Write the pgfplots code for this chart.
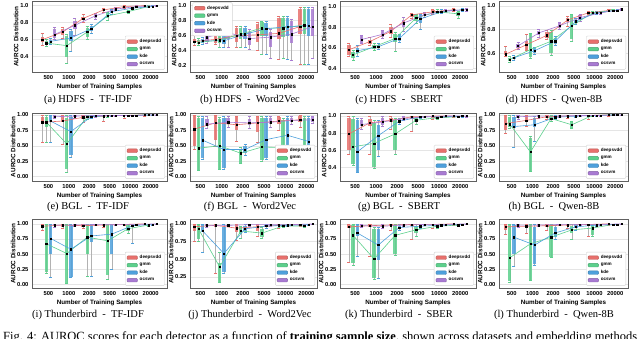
\documentclass[border=0pt]{standalone}
\usepackage{pgfplots}
\pgfplotsset{compat=1.18}
\usepackage{pgfplotstable}
\usepackage{graphicx}
\usepackage{fontspec}
\setmainfont{Liberation Serif}
\setsansfont{Liberation Sans}

\definecolor{cd}{RGB}{232,112,108}
\definecolor{cg}{RGB}{92,208,140}
\definecolor{ck}{RGB}{78,160,220}
\definecolor{co}{RGB}{168,122,210}

% columns: i lw q1 m q3 uw  (whisker low, box low, median, box high, whisker high)
\pgfplotstableread{
i lw q1 m q3 uw
1 0.54 0.57 0.60 0.63 0.68
2 0.62 0.65 0.69 0.72 0.75
3 0.80 0.83 0.85 0.87 0.90
4 0.92 0.94 0.95 0.96 0.97
5 0.97 0.98 0.99 0.99 1.00
6 0.99 0.99 1.00 1.00 1.00
}\aD
\pgfplotstableread{
i lw q1 m q3 uw
1 0.52 0.54 0.56 0.59 0.61
2 0.32 0.40 0.53 0.64 0.66
3 0.60 0.63 0.69 0.74 0.76
4 0.83 0.85 0.88 0.91 0.92
5 0.91 0.92 0.93 0.94 0.95
6 0.98 0.99 0.99 1.00 1.00
}\aG
\pgfplotstableread{
i lw q1 m q3 uw
1 0.55 0.56 0.58 0.60 0.62
2 0.46 0.58 0.62 0.70 0.72
3 0.68 0.70 0.73 0.76 0.78
4 0.90 0.92 0.93 0.95 0.96
5 0.96 0.97 0.97 0.98 0.98
6 0.99 0.99 0.99 1.00 1.00
}\aK
\pgfplotstableread{
i lw q1 m q3 uw
1 0.60 0.62 0.66 0.73 0.75
2 0.65 0.72 0.77 0.82 0.85
3 0.84 0.86 0.88 0.90 0.91
4 0.95 0.96 0.96 0.97 0.98
5 0.98 0.99 0.99 0.99 1.00
6 0.99 1.00 1.00 1.00 1.00
}\aO

\pgfplotstableread{
i lw q1 m q3 uw
1 0.47 0.50 0.52 0.56 0.60
2 0.48 0.50 0.55 0.65 0.70
3 0.45 0.52 0.60 0.70 0.73
4 0.40 0.52 0.61 0.76 0.78
5 0.29 0.55 0.63 0.84 0.86
6 0.22 0.62 0.72 0.96 0.98
}\bD
\pgfplotstableread{
i lw q1 m q3 uw
1 0.47 0.49 0.51 0.54 0.56
2 0.45 0.50 0.54 0.60 0.65
3 0.45 0.55 0.62 0.70 0.72
4 0.35 0.60 0.70 0.78 0.79
5 0.30 0.58 0.70 0.84 0.86
6 0.22 0.62 0.74 0.96 0.98
}\bG
\pgfplotstableread{
i lw q1 m q3 uw
1 0.48 0.50 0.53 0.56 0.58
2 0.45 0.49 0.53 0.60 0.66
3 0.45 0.56 0.62 0.70 0.72
4 0.35 0.60 0.69 0.77 0.79
5 0.28 0.60 0.72 0.84 0.86
6 0.22 0.60 0.73 0.96 0.98
}\bK
\pgfplotstableread{
i lw q1 m q3 uw
1 0.50 0.52 0.58 0.62 0.64
2 0.45 0.55 0.64 0.70 0.72
3 0.42 0.48 0.56 0.65 0.68
4 0.30 0.45 0.58 0.65 0.68
5 0.27 0.50 0.62 0.80 0.82
6 0.30 0.60 0.72 0.96 0.98
}\bO

\pgfplotstableread{
i lw q1 m q3 uw
1 0.52 0.53 0.58 0.63 0.64
2 0.62 0.64 0.66 0.68 0.70
3 0.70 0.73 0.76 0.80 0.83
4 0.89 0.90 0.92 0.93 0.94
5 0.93 0.94 0.95 0.97 0.97
6 0.96 0.96 0.97 0.98 0.98
}\cD
\pgfplotstableread{
i lw q1 m q3 uw
1 0.48 0.50 0.53 0.56 0.58
2 0.58 0.59 0.61 0.63 0.64
3 0.57 0.66 0.69 0.73 0.75
4 0.84 0.86 0.89 0.92 0.93
5 0.94 0.95 0.95 0.96 0.97
6 0.89 0.91 0.93 0.95 0.96
}\cG
\pgfplotstableread{
i lw q1 m q3 uw
1 0.52 0.55 0.57 0.60 0.62
2 0.59 0.60 0.61 0.63 0.64
3 0.65 0.67 0.69 0.72 0.73
4 0.78 0.84 0.88 0.92 0.93
5 0.94 0.95 0.95 0.96 0.97
6 0.96 0.96 0.97 0.98 0.98
}\cK
\pgfplotstableread{
i lw q1 m q3 uw
1 0.64 0.65 0.68 0.71 0.72
2 0.69 0.70 0.73 0.76 0.77
3 0.76 0.80 0.84 0.87 0.90
4 0.90 0.91 0.92 0.94 0.95
5 0.95 0.96 0.96 0.97 0.97
6 0.96 0.97 0.97 0.98 0.98
}\cO

\pgfplotstableread{
i lw q1 m q3 uw
1 0.57 0.58 0.59 0.62 0.66
2 0.62 0.63 0.67 0.70 0.76
3 0.72 0.73 0.75 0.78 0.79
4 0.83 0.86 0.88 0.90 0.91
5 0.93 0.94 0.94 0.95 0.95
6 0.95 0.96 0.96 0.97 0.97
}\dD
\pgfplotstableread{
i lw q1 m q3 uw
1 0.52 0.53 0.545 0.56 0.57
2 0.56 0.57 0.63 0.76 0.77
3 0.58 0.60 0.70 0.78 0.79
4 0.70 0.72 0.83 0.92 0.93
5 0.93 0.94 0.94 0.95 0.95
6 0.95 0.96 0.96 0.97 0.97
}\dG
\pgfplotstableread{
i lw q1 m q3 uw
1 0.54 0.55 0.56 0.57 0.58
2 0.59 0.60 0.62 0.64 0.65
3 0.67 0.68 0.70 0.73 0.74
4 0.84 0.85 0.87 0.88 0.89
5 0.93 0.94 0.94 0.95 0.95
6 0.95 0.96 0.96 0.97 0.97
}\dK
\pgfplotstableread{
i lw q1 m q3 uw
1 0.63 0.64 0.66 0.68 0.69
2 0.73 0.75 0.77 0.79 0.80
3 0.80 0.81 0.83 0.85 0.86
4 0.87 0.88 0.90 0.92 0.93
5 0.93 0.94 0.94 0.95 0.95
6 0.96 0.96 0.97 0.97 0.98
}\dO

\pgfplotstableread{
i lw q1 m q3 uw
1 0.55 0.86 0.88 0.97 1.00
2 0.53 0.88 0.90 0.98 1.00
3 0.88 0.93 0.96 0.99 1.00
4 0.89 0.96 0.98 1.00 1.00
5 0.95 0.98 0.99 1.00 1.00
6 0.98 0.99 1.00 1.00 1.00
}\eD
\pgfplotstableread{
i lw q1 m q3 uw
1 0.55 0.80 0.88 0.97 1.00
2 0.07 0.12 0.53 0.95 1.00
3 0.93 0.95 0.97 0.99 1.00
4 0.96 0.98 0.99 1.00 1.00
5 0.97 0.98 0.99 1.00 1.00
6 0.99 0.99 1.00 1.00 1.00
}\eG
\pgfplotstableread{
i lw q1 m q3 uw
1 0.55 0.88 0.90 0.98 1.00
2 0.32 0.35 0.73 0.97 1.00
3 0.94 0.96 0.97 0.99 1.00
4 0.97 0.98 0.99 1.00 1.00
5 0.98 0.99 0.99 1.00 1.00
6 0.99 0.99 1.00 1.00 1.00
}\eK
\pgfplotstableread{
i lw q1 m q3 uw
1 0.94 0.96 0.97 0.99 1.00
2 0.95 0.97 0.98 0.99 1.00
3 0.96 0.98 0.99 1.00 1.00
4 0.97 0.98 0.99 1.00 1.00
5 0.98 0.99 0.99 1.00 1.00
6 0.99 0.99 1.00 1.00 1.00
}\eO

\pgfplotstableread{
i lw q1 m q3 uw
1 0.45 0.50 0.77 0.98 1.00
2 0.50 0.60 0.87 0.98 1.00
3 0.58 0.75 0.84 0.97 0.98
4 0.55 0.72 0.87 0.97 0.98
5 0.75 0.85 0.90 0.97 0.98
6 0.80 0.88 0.92 0.98 0.99
}\fD
\pgfplotstableread{
i lw q1 m q3 uw
1 0.10 0.10 0.46 0.95 0.98
2 0.12 0.13 0.50 0.93 0.96
3 0.22 0.22 0.38 0.45 0.48
4 0.25 0.27 0.48 0.95 0.97
5 0.20 0.25 0.47 0.92 0.95
6 0.28 0.30 0.50 0.95 0.97
}\fG
\pgfplotstableread{
i lw q1 m q3 uw
1 0.28 0.30 0.59 0.95 0.97
2 0.12 0.14 0.44 0.95 0.97
3 0.35 0.38 0.44 0.50 0.52
4 0.28 0.30 0.60 0.95 0.97
5 0.30 0.35 0.67 0.95 0.97
6 0.28 0.30 0.57 0.95 0.97
}\fK
\pgfplotstableread{
i lw q1 m q3 uw
1 0.78 0.82 0.85 0.93 0.97
2 0.80 0.85 0.88 0.95 0.98
3 0.78 0.83 0.87 0.93 0.97
4 0.80 0.85 0.88 0.95 0.98
5 0.85 0.88 0.91 0.95 0.98
6 0.87 0.89 0.92 0.96 0.98
}\fO

\pgfplotstableread{
i lw q1 m q3 uw
1 0.55 0.60 0.79 0.98 1.00
2 0.55 0.88 0.92 0.97 1.00
3 0.85 0.93 0.95 0.98 1.00
4 0.82 0.97 0.99 1.00 1.00
5 0.96 0.98 1.00 1.00 1.00
6 0.99 1.00 1.00 1.00 1.00
}\gD
\pgfplotstableread{
i lw q1 m q3 uw
1 0.42 0.44 0.64 0.97 1.00
2 0.39 0.40 0.68 0.92 0.95
3 0.55 0.60 0.79 0.95 0.97
4 0.90 0.93 0.95 0.98 0.99
5 0.96 0.97 0.98 0.99 1.00
6 0.98 0.99 0.99 1.00 1.00
}\gG
\pgfplotstableread{
i lw q1 m q3 uw
1 0.34 0.35 0.58 0.95 0.97
2 0.53 0.60 0.77 0.90 0.95
3 0.90 0.92 0.94 0.96 0.97
4 0.97 0.98 0.99 1.00 1.00
5 0.98 0.99 0.99 1.00 1.00
6 0.99 0.99 1.00 1.00 1.00
}\gK
\pgfplotstableread{
i lw q1 m q3 uw
1 0.85 0.88 0.90 0.95 0.97
2 0.88 0.90 0.93 0.98 1.00
3 0.95 0.96 0.97 0.99 1.00
4 0.98 0.99 0.99 1.00 1.00
5 0.99 0.99 1.00 1.00 1.00
6 0.99 1.00 1.00 1.00 1.00
}\gO

\pgfplotstableread{
i lw q1 m q3 uw
1 0.70 0.75 0.86 0.98 1.00
2 0.82 0.88 0.91 0.98 1.00
3 0.93 0.95 0.97 0.99 1.00
4 0.95 0.97 0.98 1.00 1.00
5 0.93 0.98 0.99 1.00 1.00
6 0.98 0.99 1.00 1.00 1.00
}\hD
\pgfplotstableread{
i lw q1 m q3 uw
1 0.78 0.80 0.85 0.97 1.00
2 0.08 0.09 0.40 0.62 0.65
3 0.90 0.92 0.94 0.98 0.99
4 0.78 0.79 0.84 0.88 0.90
5 0.97 0.98 0.99 1.00 1.00
6 0.99 0.99 1.00 1.00 1.00
}\hG
\pgfplotstableread{
i lw q1 m q3 uw
1 0.47 0.78 0.81 0.97 1.00
2 0.57 0.80 0.84 0.95 0.97
3 0.93 0.95 0.96 0.98 0.99
4 0.96 0.97 0.98 0.99 1.00
5 0.98 0.99 0.99 1.00 1.00
6 0.99 0.99 1.00 1.00 1.00
}\hK
\pgfplotstableread{
i lw q1 m q3 uw
1 0.93 0.95 0.97 0.99 1.00
2 0.95 0.96 0.98 0.99 1.00
3 0.96 0.97 0.98 0.99 1.00
4 0.97 0.98 0.99 1.00 1.00
5 0.98 0.99 0.99 1.00 1.00
6 0.99 0.99 1.00 1.00 1.00
}\hO

\pgfplotstableread{
i lw q1 m q3 uw
1 0.90 0.94 0.96 0.99 1.00
2 0.93 0.95 0.98 1.00 1.00
3 0.93 0.95 0.97 0.99 1.00
4 0.95 0.97 0.98 1.00 1.00
5 0.97 0.98 0.99 1.00 1.00
6 0.99 0.99 1.00 1.00 1.00
}\iD
\pgfplotstableread{
i lw q1 m q3 uw
1 0.18 0.20 0.67 0.98 1.00
2 0.02 0.03 0.51 0.98 1.00
3 0.13 0.50 0.78 0.98 1.00
4 0.08 0.15 0.72 0.98 1.00
5 0.85 0.88 0.92 0.98 1.00
6 0.96 0.97 0.98 0.99 1.00
}\iG
\pgfplotstableread{
i lw q1 m q3 uw
1 0.12 0.50 0.76 0.98 1.00
2 0.12 0.13 0.58 0.98 1.00
3 0.13 0.70 0.80 0.98 1.00
4 0.25 0.50 0.83 0.98 1.00
5 0.68 0.94 0.97 0.99 1.00
6 0.98 0.99 0.99 1.00 1.00
}\iK
\pgfplotstableread{
i lw q1 m q3 uw
1 0.95 0.97 0.98 0.99 1.00
2 0.96 0.97 0.98 0.99 1.00
3 0.97 0.98 0.99 1.00 1.00
4 0.97 0.98 0.99 1.00 1.00
5 0.98 0.99 0.99 1.00 1.00
6 0.99 0.99 1.00 1.00 1.00
}\iO

\pgfplotstableread{
i lw q1 m q3 uw
1 0.75 0.90 0.96 1.00 1.00
2 0.30 0.95 0.98 1.00 1.00
3 0.77 0.88 0.94 0.99 1.00
4 0.82 0.90 0.96 0.99 1.00
5 0.94 0.97 0.98 0.99 1.00
6 0.97 0.98 0.99 1.00 1.00
}\jD
\pgfplotstableread{
i lw q1 m q3 uw
1 0.75 0.78 0.93 0.99 1.00
2 0.17 0.18 0.39 0.45 0.60
3 0.80 0.85 0.90 0.95 0.97
4 0.80 0.82 0.87 0.93 0.95
5 0.95 0.96 0.97 0.98 0.99
6 0.95 0.96 0.97 0.98 0.99
}\jG
\pgfplotstableread{
i lw q1 m q3 uw
1 0.60 0.88 0.90 0.98 1.00
2 0.30 0.32 0.58 0.95 1.00
3 0.88 0.90 0.93 0.97 0.99
4 0.94 0.96 0.97 0.99 1.00
5 0.96 0.97 0.98 0.99 1.00
6 0.98 0.99 0.99 1.00 1.00
}\jK
\pgfplotstableread{
i lw q1 m q3 uw
1 0.95 0.97 0.98 0.99 1.00
2 0.96 0.97 0.98 0.99 1.00
3 0.97 0.98 0.99 1.00 1.00
4 0.97 0.98 0.99 1.00 1.00
5 0.98 0.99 0.99 1.00 1.00
6 0.99 0.99 1.00 1.00 1.00
}\jO

\pgfplotstableread{
i lw q1 m q3 uw
1 0.37 0.93 0.95 0.98 1.00
2 0.46 0.94 0.97 0.99 1.00
3 0.90 0.96 0.98 0.99 1.00
4 0.75 0.97 0.99 1.00 1.00
5 0.93 0.98 0.99 1.00 1.00
6 0.97 0.99 1.00 1.00 1.00
}\kD
\pgfplotstableread{
i lw q1 m q3 uw
1 0.32 0.35 0.81 0.98 1.00
2 0.08 0.10 0.42 0.92 0.95
3 0.48 0.50 0.81 0.98 1.00
4 0.80 0.85 0.90 0.97 0.99
5 0.93 0.95 0.96 0.98 0.99
6 0.96 0.97 0.98 0.99 1.00
}\kG
\pgfplotstableread{
i lw q1 m q3 uw
1 0.47 0.80 0.85 0.98 1.00
2 0.10 0.40 0.65 0.92 0.95
3 0.90 0.92 0.94 0.97 0.99
4 0.93 0.95 0.96 0.98 0.99
5 0.96 0.97 0.98 0.99 1.00
6 0.98 0.99 0.99 1.00 1.00
}\kK
\pgfplotstableread{
i lw q1 m q3 uw
1 0.94 0.96 0.97 0.99 1.00
2 0.93 0.95 0.96 0.98 1.00
3 0.96 0.97 0.98 0.99 1.00
4 0.97 0.98 0.99 1.00 1.00
5 0.98 0.99 0.99 1.00 1.00
6 0.99 0.99 1.00 1.00 1.00
}\kO

\pgfplotstableread{
i lw q1 m q3 uw
1 0.83 0.90 0.95 0.99 1.00
2 0.85 0.93 0.96 0.99 1.00
3 0.90 0.95 0.97 0.99 1.00
4 0.93 0.97 0.98 1.00 1.00
5 0.80 0.98 0.99 1.00 1.00
6 0.98 0.99 1.00 1.00 1.00
}\lD
\pgfplotstableread{
i lw q1 m q3 uw
1 0.03 0.05 0.44 0.98 1.00
2 0.07 0.08 0.67 0.98 1.00
3 0.45 0.46 0.78 0.98 1.00
4 0.75 0.85 0.90 0.97 0.99
5 0.80 0.82 0.93 0.98 0.99
6 0.97 0.98 0.99 1.00 1.00
}\lG
\pgfplotstableread{
i lw q1 m q3 uw
1 0.30 0.50 0.78 0.98 1.00
2 0.32 0.33 0.65 0.95 1.00
3 0.75 0.78 0.85 0.95 0.98
4 0.90 0.93 0.95 0.98 0.99
5 0.96 0.97 0.98 0.99 1.00
6 0.98 0.99 0.99 1.00 1.00
}\lK
\pgfplotstableread{
i lw q1 m q3 uw
1 0.95 0.97 0.98 0.99 1.00
2 0.96 0.97 0.98 0.99 1.00
3 0.97 0.98 0.99 1.00 1.00
4 0.97 0.98 0.99 1.00 1.00
5 0.98 0.99 0.99 1.00 1.00
6 0.99 0.99 1.00 1.00 1.00
}\lO

% whiskers + box for one detector
\newcommand{\boxes}[3]{%
  \addplot[draw=none, mark=none, forget plot,
    error bars/.cd, y dir=both, y explicit, error mark=-,
    error mark options={rotate=90, draw=#3, line width=0.5pt, mark size=1.5pt},
    error bar style={draw=gray!60, line width=0.35pt}]
    table[x expr=\thisrow{i}+#2, y=m,
      y error plus expr=\thisrow{uw}-\thisrow{m},
      y error minus expr=\thisrow{m}-\thisrow{lw}] {#1};
  \addplot[draw=none, mark=none, forget plot,
    error bars/.cd, y dir=both, y explicit, error mark=none,
    error bar style={draw=#3, line width=3.4pt, opacity=0.85}]
    table[x expr=\thisrow{i}+#2, y=m,
      y error plus expr=\thisrow{q3}-\thisrow{m},
      y error minus expr=\thisrow{m}-\thisrow{q1}] {#1};
}
% median line and markers
\newcommand{\medline}[3]{%
  \addplot[#3, line width=0.6pt, mark=none, forget plot]
    table[x expr=\thisrow{i}+#2, y=m] {#1};
  \addplot[draw=none, mark=square*, mark size=0.65pt, mark options={fill=black, draw=black}, forget plot]
    table[x expr=\thisrow{i}+#2, y=m] {#1};
}
\newcommand{\detectors}[4]{%
  \boxes{#1}{-0.3}{cd}\boxes{#2}{-0.1}{cg}\boxes{#3}{0.1}{ck}\boxes{#4}{0.3}{co}
  \medline{#1}{-0.3}{cd}\medline{#2}{-0.1}{cg}\medline{#3}{0.1}{ck}\medline{#4}{0.3}{co}
  \addlegendimage{fill=cd, draw=cd!80!black}\addlegendentry{deepsvdd}
  \addlegendimage{fill=cg, draw=cg!80!black}\addlegendentry{gmm}
  \addlegendimage{fill=ck, draw=ck!80!black}\addlegendentry{kde}
  \addlegendimage{fill=co, draw=co!80!black}\addlegendentry{ocsvm}
}

\pgfplotsset{
  panel/.style={
    scale only axis, anchor=south west,
    axis line style={gray!75!black, line width=0.5pt},
    ymajorgrids, major grid style={gray!20, line width=0.4pt},
    major tick length=0pt,
    xtick={1,...,6}, xticklabels={500,1000,2000,5000,10000,20000},
    /pgf/number format/assume math mode=true,
    tick label style={font=\sffamily\bfseries\fontsize{5.8}{6.5}\selectfont},
    label style={font=\sffamily\bfseries\fontsize{6.3}{7}\selectfont},
    xlabel={Number of Training Samples}, ylabel={AUROC Distribution},
    xlabel style={yshift=2.5pt}, ylabel style={yshift=-5pt},
    legend cell align=left,
    legend style={at={(0.985,0.035)}, anchor=south east,
      font=\sffamily\bfseries\fontsize{4.6}{5.2}\selectfont,
      draw=gray!35, fill=white, rounded corners=1pt,
      inner xsep=1.6pt, inner ysep=1.2pt, row sep=-0.9pt},
    legend image code/.code={\draw[##1] (0pt,-1.8pt) rectangle (10.5pt,1.8pt);},
  },
  p1/.style={yticklabel style={/pgf/number format/.cd, fixed, fixed zerofill, precision=1}},
  p2/.style={yticklabel style={/pgf/number format/.cd, fixed, fixed zerofill, precision=2},
    ytick={0,0.25,0.5,0.75,1}},
  c1/.style={xmin=0.2, xmax=6.8, width=135pt},
  c2/.style={xmin=0.5, xmax=6.5, width=127pt},
  c3/.style={xmin=0.28, xmax=6.75, width=136pt},
  c4/.style={xmin=0.38, xmax=6.62, width=129pt},
  r1/.style={height=71pt},
  r2/.style={height=68pt},
  r3/.style={height=69pt},
}

\begin{document}
\begin{tikzpicture}
\useasboundingbox (0pt,0pt) rectangle (640pt,-339pt);

% ---- row 1: HDFS
\begin{axis}[panel, c1, r1, p1, at={(32pt,-72pt)}, ymin=0.22, ymax=1.055, ytick={0.4,0.6,0.8,1.0}]
\detectors{\aD}{\aG}{\aK}{\aO}
\end{axis}
\begin{axis}[panel, c2, r1, p1, at={(190pt,-72pt)}, ymin=0.116, ymax=1.06, ytick={0.2,0.4,0.6,0.8,1.0},
  legend style={at={(0.02,0.98)}, anchor=north west}]
\detectors{\bD}{\bG}{\bK}{\bO}
\end{axis}
\begin{axis}[panel, c3, r1, p1, at={(340pt,-72pt)}, ymin=0.364, ymax=1.055, ytick={0.4,0.6,0.8,1.0}]
\detectors{\cD}{\cG}{\cK}{\cO}
\end{axis}
\begin{axis}[panel, c4, r1, p1, at={(499pt,-72pt)}, ymin=0.44, ymax=1.04, ytick={0.6,0.8,1.0}]
\detectors{\dD}{\dG}{\dK}{\dO}
\end{axis}

% ---- row 2: BGL
\begin{axis}[panel, c1, r2, p2, at={(32pt,-181pt)}, ymin=-0.07, ymax=1.03]
\detectors{\eD}{\eG}{\eK}{\eO}
\end{axis}
\begin{axis}[panel, c2, r2, p2, at={(190pt,-181pt)}, ymin=-0.07, ymax=1.03]
\detectors{\fD}{\fG}{\fK}{\fO}
\end{axis}
\begin{axis}[panel, c3, r2, p1, at={(340pt,-181pt)}, ymin=0.24, ymax=1.035, ytick={0.4,0.6,0.8,1.0}]
\detectors{\gD}{\gG}{\gK}{\gO}
\end{axis}
\begin{axis}[panel, c4, r2, p2, at={(499pt,-181pt)}, ymin=-0.07, ymax=1.03]
\detectors{\hD}{\hG}{\hK}{\hO}
\end{axis}

% ---- row 3: Thunderbird
\begin{axis}[panel, c1, r3, p2, at={(32pt,-288pt)}, ymin=-0.06, ymax=1.08]
\detectors{\iD}{\iG}{\iK}{\iO}
\end{axis}
\begin{axis}[panel, c2, r3, p2, at={(190pt,-288pt)}, ymin=0.09, ymax=1.07, ytick={0.25,0.5,0.75,1}]
\detectors{\jD}{\jG}{\jK}{\jO}
\end{axis}
\begin{axis}[panel, c3, r3, p2, at={(340pt,-288pt)}, ymin=-0.06, ymax=1.08]
\detectors{\kD}{\kG}{\kK}{\kO}
\end{axis}
\begin{axis}[panel, c4, r3, p2, at={(499pt,-288pt)}, ymin=-0.06, ymax=1.08]
\detectors{\lD}{\lG}{\lK}{\lO}
\end{axis}

% sub-captions
\begin{scope}[every node/.style={font=\fontsize{10.5}{12}\selectfont, inner sep=0pt}]
\node at (88pt,-100pt) {(a) HDFS \ - \ TF-IDF};
\node at (250pt,-100pt) {(b) HDFS \ - \ Word2Vec};
\node at (399pt,-100pt) {(c) HDFS \ - \ SBERT};
\node at (554pt,-100pt) {(d) HDFS \ - \ Qwen-8B};
\node at (88pt,-207pt) {(e) BGL \ - \ TF-IDF};
\node at (250pt,-207pt) {(f) BGL \ - \ Word2Vec};
\node at (399pt,-207pt) {(g) BGL \ - \ SBERT};
\node at (554pt,-207pt) {(h) BGL \ - \ Qwen-8B};
\node at (88pt,-315pt) {(i) Thunderbird \ - \ TF-IDF};
\node at (250pt,-315pt) {(j) Thunderbird \ - \ Word2Vec};
\node at (399pt,-315pt) {(k) Thunderbird \ - \ SBER};
\node at (554pt,-315pt) {(l) Thunderbird \ - \ Qwen-8B};
\node[anchor=base west] at (3pt,-340.5pt) {\resizebox{634pt}{!}{Fig. 4: AUROC scores for each detector as a function of \textbf{training sample size}, shown across datasets and embedding methods}};
\end{scope}
\end{tikzpicture}
\end{document}
